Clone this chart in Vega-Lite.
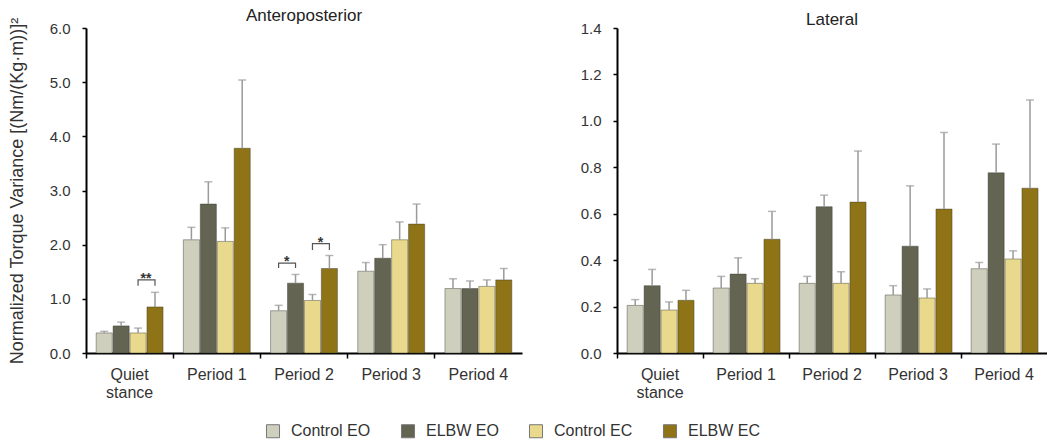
{
  "$schema": "https://vega.github.io/schema/vega-lite/v6.json",
  "padding": {"left": 8, "top": 7, "right": 0, "bottom": 0},
  "background": "white",
  "config": {
    "font": "Liberation Sans",
    "view": {"stroke": null},
    "axis": {"grid": false, "labelColor": "#333", "labelFontSize": 15, "titleColor": "#333", "titleFontWeight": "normal", "titleFontSize": 18, "domainColor": "#000", "domainWidth": 2, "tickColor": "#000", "tickWidth": 1.5},
    "title": {"fontSize": 17, "fontWeight": "normal", "color": "#222", "offset": -8},
    "legend": {"orient": "none", "legendX": 179, "legendY": 395, "direction": "horizontal", "title": null, "symbolType": "square", "symbolSize": 170, "symbolStrokeColor": "#777", "symbolStrokeWidth": 1, "labelFontSize": 16, "labelColor": "#333", "columnPadding": 28, "labelOffset": 10}
  },
  "datasets": {
    "ap": [
      {"period": "Quiet stance", "series": "Control EO", "value": 0.37, "upper": 0.40},
      {"period": "Quiet stance", "series": "ELBW EO", "value": 0.50, "upper": 0.57},
      {"period": "Quiet stance", "series": "Control EC", "value": 0.37, "upper": 0.46},
      {"period": "Quiet stance", "series": "ELBW EC", "value": 0.85, "upper": 1.12},
      {"period": "Period 1", "series": "Control EO", "value": 2.09, "upper": 2.32},
      {"period": "Period 1", "series": "ELBW EO", "value": 2.75, "upper": 3.16},
      {"period": "Period 1", "series": "Control EC", "value": 2.06, "upper": 2.31},
      {"period": "Period 1", "series": "ELBW EC", "value": 3.78, "upper": 5.04},
      {"period": "Period 2", "series": "Control EO", "value": 0.78, "upper": 0.88},
      {"period": "Period 2", "series": "ELBW EO", "value": 1.29, "upper": 1.45},
      {"period": "Period 2", "series": "Control EC", "value": 0.97, "upper": 1.08},
      {"period": "Period 2", "series": "ELBW EC", "value": 1.56, "upper": 1.80},
      {"period": "Period 3", "series": "Control EO", "value": 1.51, "upper": 1.67},
      {"period": "Period 3", "series": "ELBW EO", "value": 1.75, "upper": 2.00},
      {"period": "Period 3", "series": "Control EC", "value": 2.09, "upper": 2.42},
      {"period": "Period 3", "series": "ELBW EC", "value": 2.38, "upper": 2.75},
      {"period": "Period 4", "series": "Control EO", "value": 1.19, "upper": 1.37},
      {"period": "Period 4", "series": "ELBW EO", "value": 1.19, "upper": 1.33},
      {"period": "Period 4", "series": "Control EC", "value": 1.23, "upper": 1.35},
      {"period": "Period 4", "series": "ELBW EC", "value": 1.35, "upper": 1.56}
    ],
    "lat": [
      {"period": "Quiet stance", "series": "Control EO", "value": 0.205, "upper": 0.23},
      {"period": "Quiet stance", "series": "ELBW EO", "value": 0.29, "upper": 0.36},
      {"period": "Quiet stance", "series": "Control EC", "value": 0.185, "upper": 0.22},
      {"period": "Quiet stance", "series": "ELBW EC", "value": 0.227, "upper": 0.27},
      {"period": "Period 1", "series": "Control EO", "value": 0.28, "upper": 0.33},
      {"period": "Period 1", "series": "ELBW EO", "value": 0.34, "upper": 0.41},
      {"period": "Period 1", "series": "Control EC", "value": 0.30, "upper": 0.32},
      {"period": "Period 1", "series": "ELBW EC", "value": 0.49, "upper": 0.61},
      {"period": "Period 2", "series": "Control EO", "value": 0.30, "upper": 0.33},
      {"period": "Period 2", "series": "ELBW EO", "value": 0.63, "upper": 0.68},
      {"period": "Period 2", "series": "Control EC", "value": 0.30, "upper": 0.35},
      {"period": "Period 2", "series": "ELBW EC", "value": 0.65, "upper": 0.87},
      {"period": "Period 3", "series": "Control EO", "value": 0.25, "upper": 0.29},
      {"period": "Period 3", "series": "ELBW EO", "value": 0.46, "upper": 0.72},
      {"period": "Period 3", "series": "Control EC", "value": 0.237, "upper": 0.276},
      {"period": "Period 3", "series": "ELBW EC", "value": 0.62, "upper": 0.95},
      {"period": "Period 4", "series": "Control EO", "value": 0.363, "upper": 0.39},
      {"period": "Period 4", "series": "ELBW EO", "value": 0.776, "upper": 0.90},
      {"period": "Period 4", "series": "Control EC", "value": 0.405, "upper": 0.44},
      {"period": "Period 4", "series": "ELBW EC", "value": 0.71, "upper": 1.09}
    ],
    "brackets": [
      {"bracket": "b1", "i": 1, "period": "Quiet stance", "series": "Control EC", "y": 1.24},
      {"bracket": "b1", "i": 2, "period": "Quiet stance", "series": "Control EC", "y": 1.35},
      {"bracket": "b1", "i": 3, "period": "Quiet stance", "series": "ELBW EC", "y": 1.35},
      {"bracket": "b1", "i": 4, "period": "Quiet stance", "series": "ELBW EC", "y": 1.24},
      {"bracket": "b2", "i": 1, "period": "Period 2", "series": "Control EO", "y": 1.57},
      {"bracket": "b2", "i": 2, "period": "Period 2", "series": "Control EO", "y": 1.66},
      {"bracket": "b2", "i": 3, "period": "Period 2", "series": "ELBW EO", "y": 1.66},
      {"bracket": "b2", "i": 4, "period": "Period 2", "series": "ELBW EO", "y": 1.57},
      {"bracket": "b3", "i": 1, "period": "Period 2", "series": "Control EC", "y": 1.90},
      {"bracket": "b3", "i": 2, "period": "Period 2", "series": "Control EC", "y": 2.02},
      {"bracket": "b3", "i": 3, "period": "Period 2", "series": "ELBW EC", "y": 2.02},
      {"bracket": "b3", "i": 4, "period": "Period 2", "series": "ELBW EC", "y": 1.90}
    ],
    "stars": [
      {"period": "Quiet stance", "series": "Control EC", "y": 1.29, "label": "**"},
      {"period": "Period 2", "series": "Control EO", "y": 1.60, "label": "*"},
      {"period": "Period 2", "series": "Control EC", "y": 1.96, "label": "*"}
    ]
  },
  "spacing": 58,
  "hconcat": [
    {
      "width": 436,
      "height": 325,
      "title": {"text": "Anteroposterior"},
      "encoding": {
        "x": {"field": "period", "type": "nominal", "sort": null,
          "scale": {"domain": ["Quiet stance", "Period 1", "Period 2", "Period 3", "Period 4"], "paddingInner": 0, "paddingOuter": 0},
          "axis": {"title": null, "labelAngle": 0, "bandPosition": 0, "tickSize": 5, "labelPadding": 8, "labelFontSize": 16, "labelExpr": "datum.value == 'Quiet stance' ? ['Quiet', 'stance'] : datum.value", "labelLineHeight": 18}},
        "xOffset": {"field": "series", "type": "nominal",
          "scale": {"domain": ["Control EO", "ELBW EO", "Control EC", "ELBW EC"], "paddingInner": 0.05, "paddingOuter": 0.6}}
      },
      "layer": [
        {
          "data": {"name": "ap"},
          "mark": {"type": "bar", "stroke": "#3a3a30", "strokeWidth": 0.8, "strokeOpacity": 0.55},
          "encoding": {
            "y": {"field": "value", "type": "quantitative",
              "scale": {"domain": [0, 6]},
              "axis": {"title": "Normalized Torque Variance [(Nm/(Kg·m))]²", "values": [0, 1, 2, 3, 4, 5, 6], "format": ".1f", "tickSize": 4, "labelPadding": 12, "titlePadding": 23}},
            "color": {"field": "series", "type": "nominal",
              "scale": {"domain": ["Control EO", "ELBW EO", "Control EC", "ELBW EC"], "range": ["#cfcfbe", "#636452", "#e9d98c", "#8e7416"]}}
          }
        },
        {
          "data": {"name": "ap"},
          "mark": {"type": "rule", "color": "#9a9a9a", "strokeWidth": 1.5},
          "encoding": {"y": {"field": "value", "type": "quantitative"}, "y2": {"field": "upper"}}
        },
        {
          "data": {"name": "ap"},
          "mark": {"type": "tick", "color": "#9a9a9a", "thickness": 1.5, "size": 8},
          "encoding": {"y": {"field": "upper", "type": "quantitative"}}
        },
        {
          "data": {"name": "brackets"},
          "mark": {"type": "line", "color": "#555", "strokeWidth": 1.2},
          "encoding": {"y": {"field": "y", "type": "quantitative"}, "detail": {"field": "bracket"}, "order": {"field": "i"}}
        },
        {
          "data": {"name": "stars"},
          "mark": {"type": "text", "fontSize": 14, "fontWeight": "bold", "color": "#333", "dx": 8, "align": "center", "baseline": "alphabetic"},
          "encoding": {"y": {"field": "y", "type": "quantitative"}, "text": {"field": "label"}}
        }
      ]
    },
    {
      "width": 430,
      "height": 325,
      "title": {"text": "Lateral"},
      "encoding": {
        "x": {"field": "period", "type": "nominal", "sort": null,
          "scale": {"domain": ["Quiet stance", "Period 1", "Period 2", "Period 3", "Period 4"], "paddingInner": 0, "paddingOuter": 0},
          "axis": {"title": null, "labelAngle": 0, "bandPosition": 0, "tickSize": 5, "labelPadding": 8, "labelFontSize": 16, "labelExpr": "datum.value == 'Quiet stance' ? ['Quiet', 'stance'] : datum.value", "labelLineHeight": 18}},
        "xOffset": {"field": "series", "type": "nominal",
          "scale": {"domain": ["Control EO", "ELBW EO", "Control EC", "ELBW EC"], "paddingInner": 0.05, "paddingOuter": 0.6}}
      },
      "layer": [
        {
          "data": {"name": "lat"},
          "mark": {"type": "bar", "stroke": "#3a3a30", "strokeWidth": 0.8, "strokeOpacity": 0.55},
          "encoding": {
            "y": {"field": "value", "type": "quantitative",
              "scale": {"domain": [0, 1.4]},
              "axis": {"title": null, "values": [0, 0.2, 0.4, 0.6, 0.8, 1.0, 1.2, 1.4], "format": ".1f", "tickSize": 4, "labelPadding": 12}},
            "color": {"field": "series", "type": "nominal",
              "scale": {"domain": ["Control EO", "ELBW EO", "Control EC", "ELBW EC"], "range": ["#cfcfbe", "#636452", "#e9d98c", "#8e7416"]}}
          }
        },
        {
          "data": {"name": "lat"},
          "mark": {"type": "rule", "color": "#9a9a9a", "strokeWidth": 1.5},
          "encoding": {"y": {"field": "value", "type": "quantitative"}, "y2": {"field": "upper"}}
        },
        {
          "data": {"name": "lat"},
          "mark": {"type": "tick", "color": "#9a9a9a", "thickness": 1.5, "size": 8},
          "encoding": {"y": {"field": "upper", "type": "quantitative"}}
        }
      ]
    }
  ]
}
